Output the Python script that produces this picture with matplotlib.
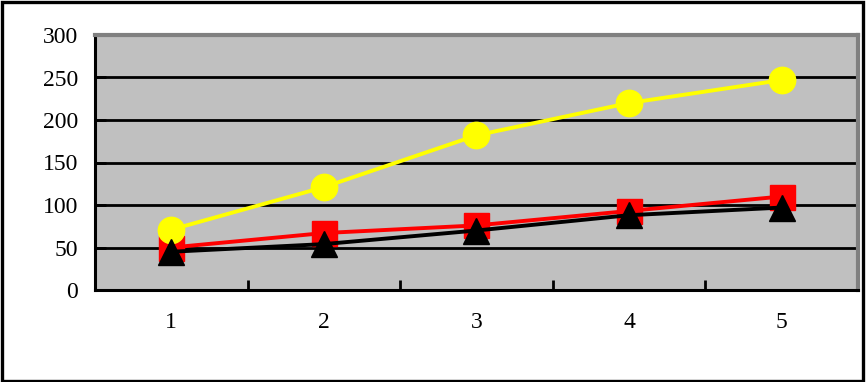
import matplotlib
matplotlib.use('Agg')
import matplotlib.pyplot as plt
from matplotlib.patches import Rectangle

categories = [1, 2, 3, 4, 5]
yellow_vals = [71, 121, 182, 220, 247]
red_vals = [50, 67, 76, 93, 110]
black_vals = [45, 54, 70, 88, 97]
y_ticks = [0, 50, 100, 150, 200, 250, 300]

W, H = 867, 382
fig = plt.figure(figsize=(W / 100, H / 100), dpi=100)
ax = fig.add_axes([95 / W, (H - 290) / H, (858 - 95) / W, (290 - 35) / H])
ax.set_facecolor('#C0C0C0')

# series
ax.plot(categories, red_vals, color='#FF0000', lw=2.8, marker='s', ms=18, zorder=4)
ax.plot(categories, yellow_vals, color='#FFFF00', lw=2.8, marker='o', ms=19, zorder=5)
ax.plot(categories, black_vals, color='black', lw=2.8, marker='^', ms=19, zorder=6)

ax.set_xlim(0.5, 5.5)
ax.set_ylim(0, 300)
ax.set_yticks(y_ticks)
ax.set_xticks(categories)
ax.set_xticks([c + 0.5 for c in categories], minor=True)
ax.yaxis.grid(True, color='black', lw=2, zorder=1)
ax.set_axisbelow(True)

font = dict(family='Liberation Serif', size=17)
ax.set_yticklabels([str(v) for v in y_ticks], **font)
ax.set_xticklabels([str(c) for c in categories], **font)
ax.tick_params(axis='y', direction='in', length=8, width=2, pad=12, color='black')
ax.tick_params(axis='x', which='major', length=0, pad=16)
ax.tick_params(axis='x', which='minor', direction='in', length=7, width=2, color='black')

for side in ['left', 'bottom']:
    ax.spines[side].set_color('black')
    ax.spines[side].set_linewidth(2.2)
for side in ['top', 'right']:
    ax.spines[side].set_color('#808080')
    ax.spines[side].set_linewidth(3)

# outer chart border
fig.patches.append(Rectangle((1.5 / W, 1.5 / H), (863 - 1.5) / W, (H - 3) / H,
                             transform=fig.transFigure, fill=False,
                             edgecolor='black', lw=2.4))

plt.savefig('out.png', dpi=100)
plt.close()
